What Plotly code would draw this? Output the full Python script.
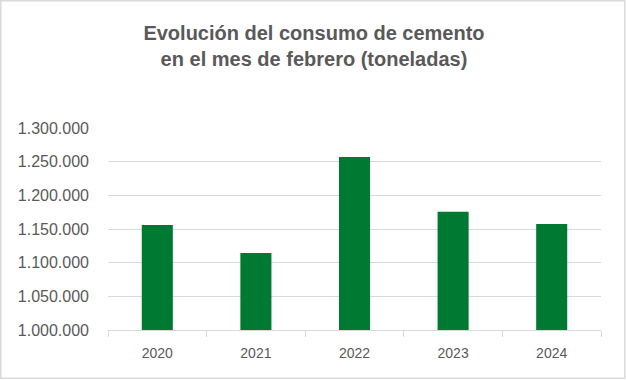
import plotly.graph_objects as go

years = ["2020", "2021", "2022", "2023", "2024"]
consumo = [1156000, 1114500, 1257000, 1175500, 1157500]
y_ticks = [1000000, 1050000, 1100000, 1150000, 1200000, 1250000, 1300000]

W, H = 626, 380
ml, mr, mt, mb = 108, 25, 128, 50
pw, ph = W - ml - mr, H - mt - mb

fig = go.Figure(go.Bar(x=years, y=consumo, marker=dict(color="#007A33", line=dict(width=0)), width=0.315))

def px_x(p):
    return (p - ml) / pw

def px_y(p):
    return (H - mb - p) / ph

fig.update_layout(
    width=W, height=H,
    margin=dict(l=ml, r=mr, t=mt, b=mb),
    paper_bgcolor="white", plot_bgcolor="white",
    separators=",.",
    font=dict(family="Liberation Sans, Arial, sans-serif", color="#595959"),
    title=dict(
        text="<b>Evolución del consumo de cemento<br>en el mes de febrero (toneladas)</b>",
        x=314 / W, xanchor="center", xref="container",
        y=1 - 40 / H, yanchor="top", yref="container",
        font=dict(size=20, color="#595959"),
    ),
    showlegend=False,
    xaxis=dict(
        showline=True, linecolor="#D9D9D9", linewidth=1,
        ticks="outside", tickson="boundaries", ticklen=6, tickcolor="#D9D9D9",
        tickfont=dict(size=14, color="#595959"), showgrid=False,
        ticklabelstandoff=10,
    ),
    yaxis=dict(
        range=[1000000, 1300000], tickvals=y_ticks, tickformat=",d",
        showgrid=True, gridcolor="#D9D9D9", gridwidth=1,
        zeroline=False, showline=False, ticks="", ticklabelstandoff=18,
        tickfont=dict(size=16, color="#595959"),
    ),
    shapes=[dict(
        type="rect", xref="paper", yref="paper",
        x0=px_x(0.75), x1=px_x(W - 1.25), y0=px_y(0.75), y1=px_y(H - 1.75),
        line=dict(color="#D9D9D9", width=1.5), fillcolor="rgba(0,0,0,0)", layer="above",
    )],
)

fig.write_html("out.html", config={"displayModeBar": False},
               post_script="document.body.style.margin='0';")
